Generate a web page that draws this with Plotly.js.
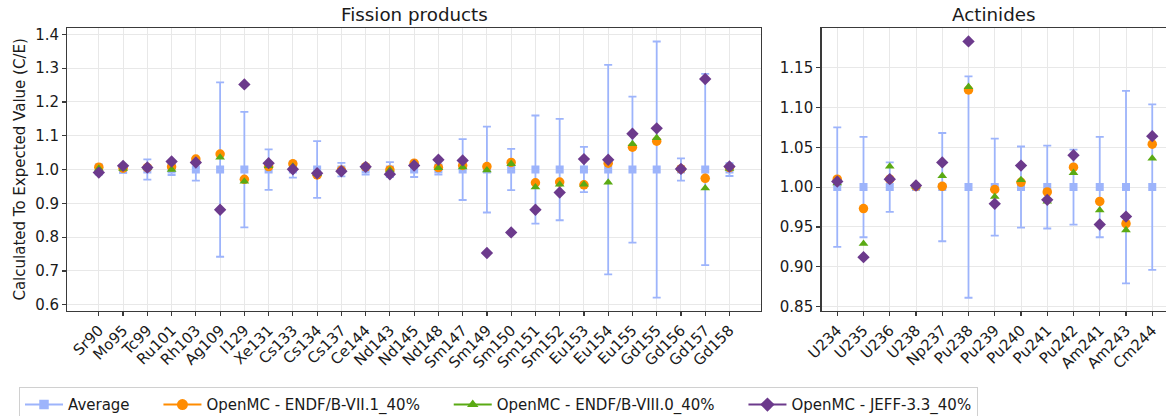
<!DOCTYPE html>
<html>
<head>
<meta charset="utf-8">
<script src="https://cdn.plot.ly/plotly-3.0.1.min.js"></script>
<style>
html,body{margin:0;padding:0;overflow:hidden;background:#fff;}
#chart{width:1170px;height:426px;}
</style>
</head>
<body>
<div id="chart"></div>
<script>
// ---- Fission products ----
var fpLabels = ["Sr90","Mo95","Tc99","Ru101","Rh103","Ag109","I129","Xe131","Cs133","Cs134","Cs137","Ce144","Nd143","Nd145","Nd148","Sm147","Sm149","Sm150","Sm151","Sm152","Eu153","Eu154","Eu155","Gd155","Gd156","Gd157","Gd158"];
var fpAverage = [1,1,1,1,1,1,1,1,1,1,1,1,1,1,1,1,1,1,1,1,1,1,1,1,1,1,1];
var fpAverageErr = [0.015,0.010,0.030,0.016,0.033,0.258,0.171,0.060,0.024,0.084,0.020,0.015,0.022,0.022,0.015,0.090,0.127,0.061,0.160,0.150,0.067,0.310,0.216,0.379,0.033,0.283,0.019];
var fpEndf71 = [1.007,1.004,1.006,1.008,1.031,1.046,0.971,1.009,1.017,0.984,0.998,1.008,0.999,1.019,1.006,1.012,1.009,1.021,0.961,0.963,0.955,1.019,1.066,1.084,1.002,0.974,1.006];
var fpEndf80 = [1.003,1.003,1.005,1.000,1.024,1.036,0.965,1.011,1.009,0.987,0.998,1.008,0.998,1.015,1.005,1.007,0.998,1.017,0.948,0.956,0.956,0.962,1.076,1.094,1.002,0.945,1.003];
var fpJeff33 = [0.991,1.011,1.006,1.024,1.021,0.881,1.252,1.019,1.001,0.989,0.995,1.008,0.986,1.012,1.029,1.027,0.753,0.814,0.881,0.932,1.031,1.029,1.106,1.122,1.002,1.268,1.009];

// ---- Actinides ----
var actLabels = ["U234","U235","U236","U238","Np237","Pu238","Pu239","Pu240","Pu241","Pu242","Am241","Am243","Cm244"];
var actAverage = [1,1,1,1,1,1,1,1,1,1,1,1,1];
var actAverageErr = [0.075,0.063,0.031,0.002,0.068,0.139,0.061,0.051,0.052,0.047,0.063,0.121,0.104];
var actEndf71 = [1.010,0.973,1.010,1.001,1.001,1.122,0.997,1.006,0.994,1.025,0.982,0.954,1.054];
var actEndf80 = [1.005,0.929,1.026,1.001,1.014,1.126,0.988,1.009,0.982,1.018,0.971,0.946,1.036];
var actJeff33 = [1.007,0.912,1.010,1.002,1.031,1.183,0.979,1.027,0.984,1.040,0.953,0.963,1.064];

var seriesNames = ["Average","OpenMC - ENDF/B-VII.1_40%","OpenMC - ENDF/B-VIII.0_40%","OpenMC - JEFF-3.3_40%"];

var C_AVG = "#9db4fb", C_71 = "#ff8c00", C_80 = "#5aaa14", C_JEFF = "#6c3a8c";
var FONT = "DejaVu Sans, sans-serif";
var SYM = ["square","circle","triangle-up","diamond"];
var SIZE = [8, 9.5, 8.5, 9.5];
var COL = [C_AVG, C_71, C_80, C_JEFF];

function idx(a){ return a.map(function(_,i){return i;}); }

var traces = [];
function addPanel(labels, avg, err, e71, e80, jeff, xa, ya){
  var x = idx(labels);
  traces.push({x:x, y:avg, type:"scatter", mode:"markers", xaxis:xa, yaxis:ya, showlegend:false,
    marker:{symbol:SYM[0], size:SIZE[0], color:COL[0]},
    error_y:{type:"data", array:err, visible:true, color:C_AVG, thickness:1.8, width:4},
    name:seriesNames[0]});
  [e71, e80, jeff].forEach(function(vals, j){
    traces.push({x:x, y:vals, type:"scatter", mode:"markers", xaxis:xa, yaxis:ya, showlegend:false,
      marker:{symbol:SYM[j+1], size:SIZE[j+1], color:COL[j+1]}, name:seriesNames[j+1]});
  });
}
addPanel(fpLabels, fpAverage, fpAverageErr, fpEndf71, fpEndf80, fpJeff33, "x", "y");
addPanel(actLabels, actAverage, actAverageErr, actEndf71, actEndf80, actJeff33, "x2", "y2");

// legend-only entries (line + marker, as in the original legend)
var PAD = "\u00a0\u00a0\u00a0\u00a0\u00a0";
for (var k=0;k<4;k++){
  traces.push({x:[null], y:[null], type:"scatter", mode:"lines+markers", xaxis:"x", yaxis:"y",
    name:seriesNames[k] + (k<3 ? PAD : ""), showlegend:true,
    line:{color:COL[k], width:2}, marker:{symbol:SYM[k], size:SIZE[k]+1.5, color:COL[k]}});
}

var W = 1170, H = 426;
function px(v){ return v/W; }
function py(v){ return (H-v)/H; }
var yDom = [py(310.5), py(28.3)];
var TF = 15;

var axCommon = {
  showline:true, mirror:true, linecolor:"#3a3a3a", linewidth:1.3,
  ticks:"outside", ticklen:4, tickwidth:1.2, tickcolor:"#3a3a3a",
  showgrid:true, gridcolor:"#e8e8e8", gridwidth:1, zeroline:false,
  tickfont:{family:FONT, size:TF, color:"#1a1a1a"}
};
function ax(extra){ var o = JSON.parse(JSON.stringify(axCommon)); for (var k in extra) o[k]=extra[k]; return o; }

var layout = {
  width:W, height:H,
  margin:{l:0,r:0,t:0,b:0},
  paper_bgcolor:"#fff", plot_bgcolor:"#fff",
  font:{family:FONT, color:"#1a1a1a"},
  xaxis: ax({domain:[px(67.3), px(761)], anchor:"y", range:[-1.3,27.3],
    tickmode:"array", tickvals:idx(fpLabels), ticktext:fpLabels, tickangle:-45}),
  yaxis: ax({domain:yDom, anchor:"x", range:[0.583,1.418], tickmode:"array",
    tickvals:[0.6,0.7,0.8,0.9,1.0,1.1,1.2,1.3,1.4], ticktext:["0.6","0.7","0.8","0.9","1.0","1.1","1.2","1.3","1.4"],
    title:{text:"Calculated To Expected Value (C/E)", font:{family:FONT, size:TF, color:"#1a1a1a"}, standoff:6}}),
  xaxis2: ax({domain:[px(821.5), px(1168)], anchor:"y2", range:[-0.6,12.6],
    tickmode:"array", tickvals:idx(actLabels), ticktext:actLabels, tickangle:-45}),
  yaxis2: ax({domain:yDom, anchor:"x2", range:[0.845,1.1995], tickmode:"array",
    tickvals:[0.85,0.90,0.95,1.00,1.05,1.10,1.15], ticktext:["0.85","0.90","0.95","1.00","1.05","1.10","1.15"]}),
  annotations:[
    {text:"Fission products", xref:"paper", yref:"paper", x:px(414), y:py(14), xanchor:"center", yanchor:"middle",
      showarrow:false, font:{family:FONT, size:18.3, color:"#1a1a1a"}},
    {text:"Actinides", xref:"paper", yref:"paper", x:px(994), y:py(14), xanchor:"center", yanchor:"middle",
      showarrow:false, font:{family:FONT, size:18.3, color:"#1a1a1a"}}
  ],
  legend:{orientation:"h", x:px(19), y:py(387.3), xanchor:"left", yanchor:"top",
    bordercolor:"#d0d0d0", borderwidth:1, bgcolor:"#fff",
    font:{family:FONT, size:TF, color:"#1a1a1a"}, itemwidth:38}
};

Plotly.newPlot("chart", traces, layout, {displayModeBar:false, staticPlot:true});
</script>
</body>
</html>
